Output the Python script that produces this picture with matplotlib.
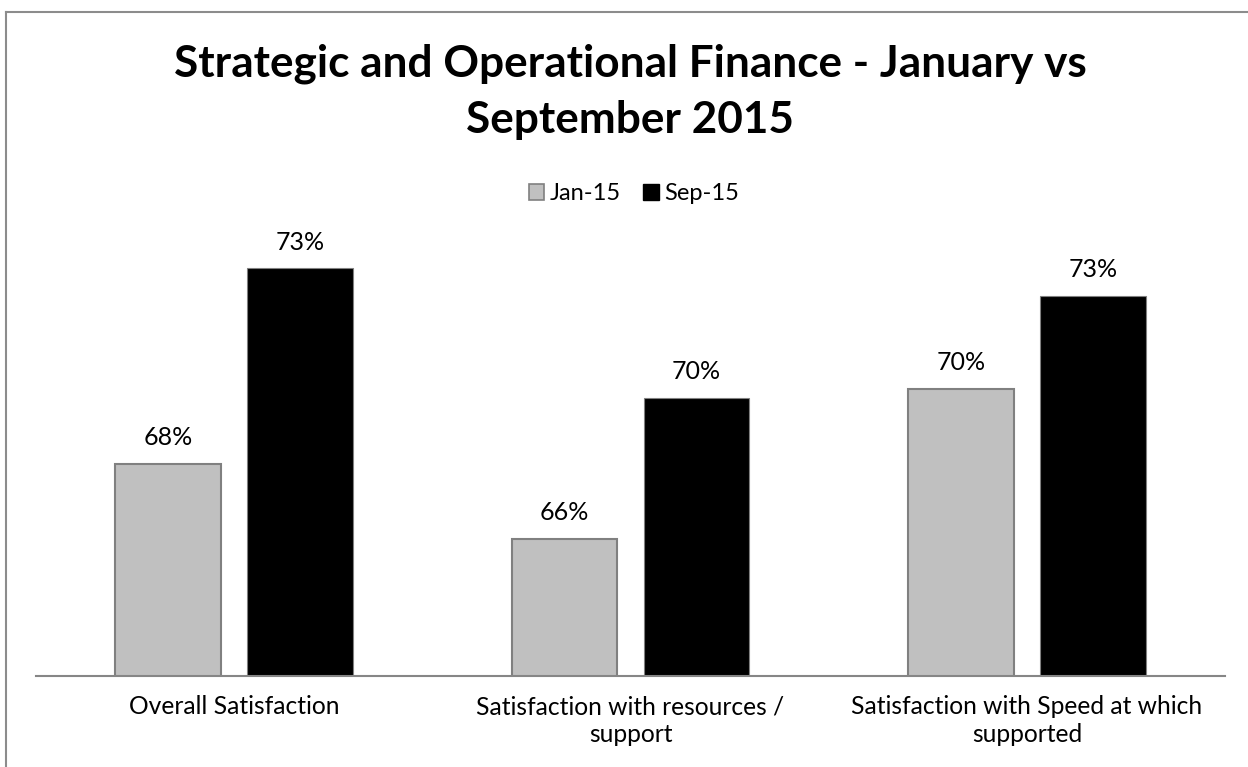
import matplotlib
matplotlib.use("Agg")
import matplotlib.pyplot as plt
from matplotlib.patches import Patch
from matplotlib.lines import Line2D
import numpy as np

plt.rcParams['font.family'] = ['Lato', 'DejaVu Sans']

title_lines = ["Strategic and Operational Finance - January vs", "September 2015"]
categories = ["Overall Satisfaction",
              "Satisfaction with resources /\nsupport",
              "Satisfaction with Speed at which\nsupported"]
series_names = ["Jan-15", "Sep-15"]
jan_values = [0.6796, 0.6586, 0.7006]
sep_values = [0.7345, 0.6982, 0.7267]

W, H, DPI = 1248, 767, 100
fig = plt.figure(figsize=(W / DPI, H / DPI), dpi=DPI)

# plot area in pixel terms
left, right, bottom, top = 36, 1225, 676, 230
ax = fig.add_axes([left / W, 1 - bottom / H, (right - left) / W, (bottom - top) / H])

x = np.arange(len(categories))
bw = 0.267
off = 0.1665
bars_j = ax.bar(x - off, jan_values, bw, color="#C0C0C0", edgecolor="#808080", linewidth=1.5, zorder=2)
bars_s = ax.bar(x + off, sep_values, bw, color="#000000", edgecolor="#808080", linewidth=0.8, zorder=2)

ax.set_xlim(-0.5, 2.5)
ax.set_ylim(0.62, 0.62 + (bottom - top) / 35.6 / 100)

for bars, vals in ((bars_j, jan_values), (bars_s, sep_values)):
    for b, v in zip(bars, vals):
        ax.annotate(f"{v:.0%}", (b.get_x() + b.get_width() / 2, v),
                    xytext=(0, 13.5), textcoords="offset points",
                    ha="center", va="baseline", fontsize=18, color="#000000")

for s in ("top", "left", "right"):
    ax.spines[s].set_visible(False)
ax.spines["bottom"].set_color("#868686")
ax.spines["bottom"].set_linewidth(1.5)
ax.set_yticks([])
ax.set_xticks(x)
ax.set_xticklabels(categories, fontsize=17.7, linespacing=1.22)
ax.tick_params(axis="x", length=0, pad=14)

# chart title, two centred lines
for line, ypix in zip(title_lines, (76, 133)):
    fig.text(630 / W, 1 - ypix / H, line, ha="center", va="baseline", fontsize=31.8,
             fontweight="bold")

# legend
handles = [Patch(facecolor="#C0C0C0", edgecolor="#808080", linewidth=1.2),
           Patch(facecolor="#000000", edgecolor="#000000")]
fig.legend(handles, series_names, loc="center", bbox_to_anchor=(634 / W, 1 - 194 / H),
           ncol=2, frameon=False, fontsize=17, handlelength=0.65, handleheight=0.65,
           handletextpad=0.25, columnspacing=0.95, borderaxespad=0)

# outer chart border (top and left edges)
fig.add_artist(Line2D([6 / W, 1.01], [1 - 12 / H, 1 - 12 / H], color="#8C8C8C", lw=1.5,
                      transform=fig.transFigure))
fig.add_artist(Line2D([6 / W, 6 / W], [1 - 12 / H, -0.01], color="#8C8C8C", lw=1.5,
                      transform=fig.transFigure))

fig.savefig("out.png", dpi=DPI)
